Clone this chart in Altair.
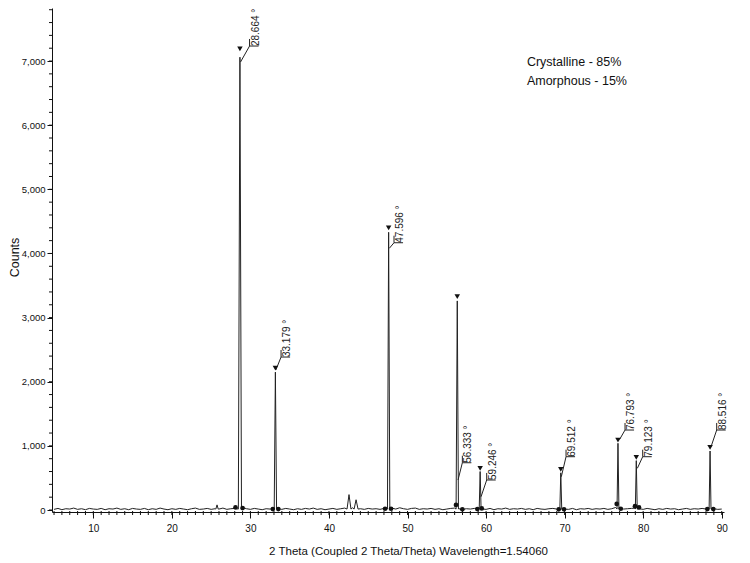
import altair as alt
import pandas as pd

# ---------------- data ----------------
# baseline (background) every 0.5 degree from 5.0 to 90.0
baseline_theta = [5.0 + 0.5 * i for i in range(171)]
baseline_counts = [
    10, 25, 5, 20, 15, 30, 10, 20, 5, 25,
    15, 10, 25, 5, 20, 15, 30, 10, 20, 5,
    25, 15, 10, 25, 5, 20, 10, 30, 15, 5,
    20, 10, 25, 15, 5, 20, 30, 10, 15, 25,
    10, 20, 15, 30, 10, 20, 25, 30, 40, 20,
    10, 25, 15, 5, 20, 15, 25, 20, 10, 25,
    15, 5, 20, 10, 25, 15, 30, 10, 20, 5,
    15, 25, 10, 20, 30, 40, 35, 40, 20, 10,
    25, 15, 20, 10, 25, 20, 30, 15, 35, 20,
    10, 25, 30, 10, 20, 15, 25, 10, 20, 5,
    15, 25, 30, 20, 10, 20, 15, 25, 20, 15,
    10, 25, 5, 20, 15, 30, 10, 20, 15, 25,
    10, 20, 5, 25, 15, 10, 20, 25, 15, 20,
    15, 10, 25, 5, 20, 15, 25, 10, 20, 15,
    25, 10, 20, 40, 30, 15, 20, 25, 30, 20,
    10, 25, 15, 5, 20, 10, 25, 15, 20, 5,
    15, 25, 10, 20, 15, 25, 15, 20, 20, 10,
    15,
]

# all diffraction peaks (apex position, apex counts, half width at foot)
peak_theta = [25.75, 28.664, 33.179, 42.55, 43.45, 47.596, 56.333, 59.246, 69.512, 76.793, 79.123, 88.516]
peak_counts = [80, 7060, 2150, 240, 160, 4330, 3260, 600, 580, 1040, 770, 920]
peak_halfwidth = [0.15, 0.2, 0.15, 0.25, 0.25, 0.15, 0.15, 0.12, 0.12, 0.12, 0.12, 0.12]
peak_foot = 15

# labelled peaks
label_theta = [28.664, 33.179, 47.596, 56.333, 59.246, 69.512, 76.793, 79.123, 88.516]
marker_counts = [7190, 2214, 4397, 3326, 650, 634, 1091, 821, 977]
leader_start_theta = [28.74, 33.24, 47.68, 56.43, 59.36, 69.58, 77.0, 79.26, 88.64]
leader_start_counts = [6985, 2183, 4080, 468, 207, 519, 1100, 650, 987]
leader_end_theta = [29.89, 33.90, 48.28, 56.98, 60.08, 70.18, 77.69, 79.94, 89.36]
leader_end_counts = [7234, 2385, 4167, 737, 468, 831, 1247, 831, 1247]
bracket_len = 1.15
bracket_rise = 110

# integration limits (black dots)
dot_theta = [28.1, 29.0, 32.85, 33.55, 47.14, 47.9, 56.17, 56.98, 58.89, 59.45,
             69.25, 69.92, 76.63, 77.15, 78.96, 79.47, 88.17, 88.93]
dot_counts = [40, 30, 15, 15, 20, 20, 80, 10, 15, 25, 10, 10, 95, 20, 60, 40, 15, 15]

note_text = ["Crystalline - 85%", "Amorphous - 15%"]
note_theta = [65.2, 65.2]
note_counts = [6922, 6626]

x_major_ticks = [10, 20, 30, 40, 50, 60, 70, 80, 90]
x_minor_ticks = list(range(5, 91))
y_major_ticks = [0, 1000, 2000, 3000, 4000, 5000, 6000, 7000]
y_minor_ticks = list(range(0, 7801, 200))

# ---------------- build tables ----------------
rows = []
for t, c in zip(baseline_theta, baseline_counts):
    if any(abs(t - p) <= hw for p, hw in zip(peak_theta, peak_halfwidth)):
        continue
    rows.append((t, c))
for p, h, hw in zip(peak_theta, peak_counts, peak_halfwidth):
    rows += [(p - hw, peak_foot), (p, h), (p + hw, peak_foot)]
rows.sort()
profile = pd.DataFrame(rows, columns=["theta", "counts"])

segs = []
for i in range(len(label_theta)):
    sx, sy = leader_start_theta[i], leader_start_counts[i]
    ex, ey = leader_end_theta[i], leader_end_counts[i]
    segs.append((sx, sy, ex, ey))
    segs.append((ex, ey, ex + bracket_len, ey))
    segs.append((ex, ey, ex, ey + bracket_rise))
leaders = pd.DataFrame(segs, columns=["theta", "counts", "theta2", "counts2"])

labels = pd.DataFrame({
    "theta": leader_end_theta,
    "counts": leader_end_counts,
    "text": [f"{v:.3f} °" for v in label_theta],
})
markers = pd.DataFrame({"theta": label_theta, "counts": marker_counts})
dots = pd.DataFrame({"theta": dot_theta, "counts": dot_counts})
notes = pd.DataFrame({"theta": note_theta, "counts": note_counts, "text": note_text})
xminor = pd.DataFrame({"theta": x_minor_ticks})
yminor = pd.DataFrame({"counts": y_minor_ticks})

FONT = "Liberation Sans"
H = 504

xscale = alt.Scale(domain=[4.74, 90.29], nice=False, zero=False)
yscale = alt.Scale(domain=[-31, 7827], nice=False, zero=False)

xaxis = alt.Axis(
    title="2 Theta (Coupled 2 Theta/Theta) Wavelength=1.54060",
    values=x_major_ticks, tickSize=6,
    labelOverlap=False, labelFlush=False, grid=False,
    labelFont=FONT, labelFontSize=10, labelColor="#111", labelPadding=5,
    titleFont=FONT, titleFontSize=11.5, titleFontWeight="normal", titleColor="#111",
    titlePadding=12, titleX=356, titleAnchor="middle",
    domainColor="#111", tickColor="#111",
)
yaxis = alt.Axis(
    title="Counts",
    values=y_major_ticks, tickSize=5,
    labelExpr="format(datum.value, ',')",
    labelOverlap=False, labelFlush=False, grid=False,
    labelFont=FONT, labelFontSize=9.5, labelColor="#111", labelPadding=2,
    titleFont=FONT, titleFontSize=12.5, titleFontWeight="normal", titleColor="#111",
    titleX=-34, titleY=249, titleAngle=270, titleAlign="center", titleBaseline="alphabetic",
    domainColor="#111", tickColor="#111",
)

X = alt.X("theta:Q", scale=xscale, axis=xaxis)
Y = alt.Y("counts:Q", scale=yscale, axis=yaxis)

line = alt.Chart(profile).mark_line(color="#222", strokeWidth=1).encode(x=X, y=Y)

leader = alt.Chart(leaders).mark_rule(color="#222", strokeWidth=1).encode(
    x=X, y=Y, x2="theta2:Q", y2="counts2:Q"
)

peak_labels = alt.Chart(labels).mark_text(
    angle=270, align="left", baseline="top", dx=0, dy=1,
    font=FONT, fontSize=10, color="#222",
).encode(x=X, y=Y, text="text:N")

tri = alt.Chart(markers).mark_point(
    shape="triangle-down", filled=True, size=30, color="#111", opacity=1
).encode(x=X, y=Y)

dot = alt.Chart(dots).mark_circle(size=22, color="#111", opacity=1).encode(x=X, y=Y)

note = alt.Chart(notes).mark_text(
    align="left", baseline="alphabetic", font=FONT, fontSize=12.5, color="#111"
).encode(x=X, y=Y, text="text:N")

# minor ticks drawn as short rules positioned through the scales
xminor_ticks = alt.Chart(xminor).mark_rule(color="#111", strokeWidth=1).encode(
    x=X, y=alt.value(H - 1), y2=alt.value(H + 3)
)
yminor_ticks = alt.Chart(yminor).mark_rule(color="#111", strokeWidth=1).encode(
    y=Y, x=alt.value(1), x2=alt.value(-3)
)

chart = alt.layer(line, leader, tri, dot, peak_labels, note, xminor_ticks, yminor_ticks).properties(
    width=672, height=H,
    autosize=alt.AutoSizeParams(type="none"),
    padding={"left": 44, "top": 0, "right": 18, "bottom": 50},
).configure(
    background="white",
    view=alt.ViewConfig(stroke="transparent", strokeOpacity=0),
)

chart.save("out.html", embed_options={"renderer": "svg", "actions": False})
